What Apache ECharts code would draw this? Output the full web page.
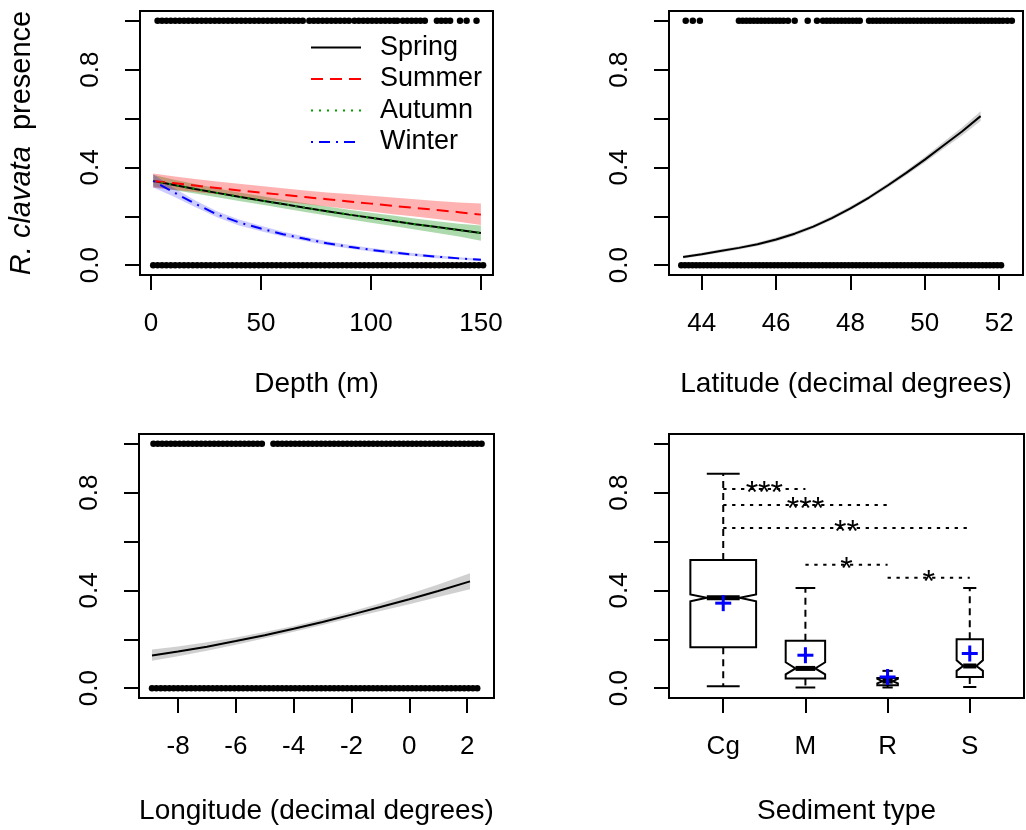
<!DOCTYPE html>
<html><head><meta charset="utf-8">
<script src="https://cdn.jsdelivr.net/npm/echarts@6/dist/echarts.min.js"></script>
<style>html,body{margin:0;padding:0;background:#fff}#c{width:1026px;height:830px}</style>
</head><body><div id="c"></div>
<script>
// ---------- Panel 1: depth ----------
const depthPts = [1,10,20,30,40,50,60,70,80,90,100,110,120,130,140,150];
const springFit = [0.345,0.329,0.312,0.296,0.280,0.265,0.250,0.235,0.221,0.207,0.194,0.181,0.168,0.156,0.144,0.132];
const summerFit = [0.345,0.336,0.326,0.316,0.306,0.297,0.288,0.279,0.270,0.261,0.252,0.243,0.234,0.226,0.217,0.207];
const summerLo  = [0.317,0.309,0.300,0.290,0.280,0.270,0.260,0.250,0.240,0.230,0.220,0.209,0.199,0.189,0.178,0.165];
const summerHi  = [0.375,0.364,0.353,0.343,0.333,0.324,0.315,0.306,0.298,0.291,0.284,0.277,0.270,0.263,0.257,0.252];
const autumnFit = [0.345,0.329,0.312,0.296,0.280,0.265,0.250,0.235,0.221,0.207,0.194,0.181,0.168,0.156,0.144,0.132];
const autumnLo  = [0.322,0.308,0.293,0.278,0.263,0.248,0.233,0.218,0.203,0.188,0.174,0.160,0.146,0.132,0.118,0.100];
const autumnHi  = [0.370,0.351,0.332,0.315,0.298,0.283,0.268,0.254,0.240,0.227,0.215,0.203,0.191,0.180,0.170,0.163];
const winterFit = [0.345,0.300,0.252,0.208,0.175,0.150,0.127,0.108,0.090,0.076,0.063,0.052,0.043,0.035,0.028,0.022];
const winterLo  = [0.318,0.282,0.238,0.196,0.163,0.139,0.117,0.099,0.082,0.068,0.056,0.045,0.037,0.029,0.023,0.016];
const winterHi  = [0.372,0.318,0.266,0.221,0.187,0.161,0.137,0.117,0.098,0.084,0.070,0.059,0.049,0.041,0.033,0.028];
const depthPresence = [3,5,7,9,11,13,15,17,19,21,23,25,27,29,31,33,35,37,39,41,43,45,47,49,51,53,55,57,59,61,63,65,67,69,72,74,76,78,80,82,84,86,88,90,92.5,94.5,96.5,98.5,100.5,102.5,104.5,106.5,108.5,110.5,112,114.5,116.5,118.5,120.5,122.5,124.5,130,132,134,136,140.5,143.5,148];
const depthAbsence = [1,3,5,7,9,11,13,15,17,19,21,23,25,27,29,31,33,35,37,39,41,43,45,47,49,51,53,55,57,59,61,63,65,67,69,71,73,75,77,79,81,83,85,87,89,91,93,95,97,99,101,103,105,107,109,111,113,115,117,119,121,123,125,127,129,131,133,135,137,139,141,143,145,147,149,151];
const depthTicks = [0,50,100,150];

// ---------- Panel 2: latitude ----------
const latPts = [43.5,44,44.5,45,45.5,46,46.5,47,47.5,48,48.5,49,49.5,50,50.5,51,51.5];
const latFit = [0.034,0.045,0.058,0.071,0.086,0.105,0.129,0.158,0.193,0.233,0.277,0.326,0.378,0.432,0.490,0.547,0.610];
const latLo  = [0.028,0.039,0.051,0.064,0.079,0.097,0.121,0.150,0.185,0.225,0.269,0.317,0.368,0.420,0.476,0.531,0.590];
const latHi  = [0.040,0.051,0.065,0.078,0.093,0.113,0.137,0.166,0.201,0.241,0.285,0.335,0.388,0.444,0.504,0.563,0.630];
const latPresence = [43.57,43.76,43.95,45.0,45.1,45.2,45.3,45.4,45.5,45.6,45.7,45.8,45.9,46.0,46.1,46.2,46.32,46.5,46.85,47.1,47.26,47.36,47.46,47.56,47.66,47.76,47.86,47.96,48.06,48.16,48.25,48.5,48.6,48.7,48.8,48.9,49.0,49.1,49.2,49.3,49.4,49.5,49.6,49.7,49.8,49.9,50.0,50.1,50.2,50.3,50.4,50.5,50.6,50.7,50.8,50.9,51.0,51.1,51.2,51.3,51.4,51.5,51.6,51.7,51.8,51.9,52.0,52.1,52.22,52.34];
const latAbsence = [43.45,43.55,43.65,43.75,43.85,43.95,44.05,44.15,44.25,44.35,44.45,44.55,44.65,44.75,44.85,44.95,45.05,45.15,45.25,45.35,45.45,45.55,45.65,45.75,45.85,45.95,46.05,46.15,46.25,46.35,46.45,46.55,46.65,46.75,46.85,46.95,47.05,47.15,47.25,47.35,47.45,47.55,47.65,47.75,47.85,47.95,48.05,48.15,48.25,48.35,48.45,48.55,48.65,48.75,48.85,48.95,49.05,49.15,49.25,49.35,49.45,49.55,49.65,49.75,49.85,49.95,50.05,50.15,50.25,50.35,50.45,50.55,50.65,50.75,50.85,50.95,51.05,51.15,51.25,51.35,51.45,51.55,51.65,51.75,51.85,51.95,52.05];
const latTicks = [44,46,48,50,52];

// ---------- Panel 3: longitude ----------
const lonPts = [-8.9,-8,-7,-6,-5,-4,-3,-2,-1,0,1,2.1];
const lonFit = [0.134,0.150,0.170,0.193,0.217,0.243,0.271,0.301,0.332,0.364,0.398,0.437];
const lonLo  = [0.112,0.131,0.153,0.178,0.204,0.231,0.259,0.288,0.316,0.344,0.373,0.405];
const lonHi  = [0.158,0.171,0.188,0.208,0.230,0.255,0.283,0.314,0.348,0.385,0.424,0.470];
const lonPresence = [-8.85,-8.7,-8.55,-8.4,-8.25,-8.1,-7.95,-7.8,-7.65,-7.5,-7.35,-7.2,-7.05,-6.9,-6.75,-6.6,-6.45,-6.3,-6.15,-6.0,-5.85,-5.7,-5.55,-5.4,-5.25,-5.1,-4.7,-4.55,-4.4,-4.25,-4.1,-3.95,-3.8,-3.65,-3.5,-3.35,-3.2,-3.05,-2.9,-2.75,-2.6,-2.45,-2.3,-2.15,-2.0,-1.85,-1.7,-1.55,-1.4,-1.25,-1.1,-0.95,-0.8,-0.65,-0.5,-0.35,-0.2,-0.05,0.1,0.25,0.4,0.55,0.7,0.85,1.0,1.15,1.3,1.45,1.6,1.75,1.9,2.05,2.2,2.35,2.5];
const lonAbsence = [-8.9,-8.75,-8.6,-8.45,-8.3,-8.15,-8.0,-7.85,-7.7,-7.55,-7.4,-7.25,-7.1,-6.95,-6.8,-6.65,-6.5,-6.35,-6.2,-6.05,-5.9,-5.75,-5.6,-5.45,-5.3,-5.15,-5.0,-4.85,-4.7,-4.55,-4.4,-4.25,-4.1,-3.95,-3.8,-3.65,-3.5,-3.35,-3.2,-3.05,-2.9,-2.75,-2.6,-2.45,-2.3,-2.15,-2.0,-1.85,-1.7,-1.55,-1.4,-1.25,-1.1,-0.95,-0.8,-0.65,-0.5,-0.35,-0.2,-0.05,0.1,0.25,0.4,0.55,0.7,0.85,1.0,1.15,1.3,1.45,1.6,1.75,1.9,2.05,2.2,2.35];
const lonTicks = [-8,-6,-4,-2,0,2];

// ---------- Panel 4: sediment boxplots ----------
const sedimentTypes = ['Cg','M','R','S'];
const whiskerLow  = [0.008,0.003,0.003,0.005];
const quart1      = [0.168,0.040,0.012,0.046];
const medians     = [0.370,0.081,0.029,0.091];
const quart3      = [0.525,0.194,0.042,0.200];
const whiskerHigh = [0.877,0.410,0.071,0.410];
const notchLow    = [0.356,0.057,0.020,0.071];
const notchHigh   = [0.384,0.106,0.038,0.114];
const groupMeans  = [0.348,0.135,0.046,0.142];
const relWidths   = [0.80,0.48,0.25,0.32];
const sigFrom  = [1,1,1,2,3];
const sigTo    = [2,3,4,3,4];
const sigLevel = [0.815,0.750,0.655,0.505,0.452];
const sigStars = ['***','***','**','*','*'];

const yTicks = [0,0.2,0.4,0.6,0.8,1.0];
const yLabels = [0,0.4,0.8];

// ---------- build ----------
const FONT = '"Liberation Sans", Arial, sans-serif';
const chart = echarts.init(document.getElementById('c'), null, {renderer:'canvas'});

function mkGrid(left, top, width, height){
  return {left, top, width, height, show:true, borderColor:'#000', borderWidth:2, backgroundColor:'transparent', containLabel:false};
}
function mkX(gi, min, max, ticks, name, gap, fmt){
  return {type:'value', gridIndex:gi, min, max, name, nameLocation:'middle', nameGap:gap,
    nameTextStyle:{fontSize:28, fontFamily:FONT, color:'#000'},
    axisLine:{show:false, onZero:false}, splitLine:{show:false},
    axisTick:{show:true, inside:false, length:15, lineStyle:{color:'#000', width:2}, customValues:ticks},
    axisLabel:{show:true, margin:36, fontSize:26, fontFamily:FONT, color:'#000', customValues:ticks, formatter:fmt || (v => String(v)), hideOverlap:false}};
}
function mkY(gi, withName){
  const a = {type:'value', gridIndex:gi, min:-0.04, max:1.04,
    axisLine:{show:false, onZero:false}, splitLine:{show:false},
    axisTick:{show:true, inside:false, length:15, lineStyle:{color:'#000', width:2}, customValues:yTicks},
    axisLabel:{show:true, margin:36, rotate:90, fontSize:26, fontFamily:FONT, color:'#000', customValues:yLabels, formatter:v => Number(v).toFixed(1), hideOverlap:false}};
  if (withName){
    a.name = '{i|R. clavata}{n|  presence}';
    a.nameLocation = 'middle';
    a.nameGap = 104;
    a.nameRotate = 90;
    a.nameTextStyle = {fontSize:29, fontFamily:FONT, color:'#000',
      rich:{i:{fontStyle:'italic', fontSize:29, fontFamily:FONT, color:'#000'}, n:{fontSize:29, fontFamily:FONT, color:'#000'}}};
  }
  return a;
}
function pairs(xs, ys){ return xs.map((x,i) => [x, ys[i]]); }
function flat(xs, v){ return xs.map(x => [x, v]); }
function band(gi, xs, lo, hi, color){
  return {type:'custom', xAxisIndex:gi, yAxisIndex:gi, silent:true, z:1,
    data:[[xs[0], lo[0]]],
    renderItem:function(params, api){
      const pts = [];
      for (let i=0;i<xs.length;i++) pts.push(api.coord([xs[i], hi[i]]));
      for (let i=xs.length-1;i>=0;i--) pts.push(api.coord([xs[i], lo[i]]));
      return {type:'polygon', shape:{points:pts}, style:{fill:color}};
    }};
}
function fitLine(gi, name, xs, ys, color, type){
  return {type:'line', name, xAxisIndex:gi, yAxisIndex:gi, data:pairs(xs, ys), symbol:'none', showSymbol:false,
    smooth:false, z:3, lineStyle:{color, width:2, type}, itemStyle:{color}};
}
function rug(gi, pts){
  return {type:'scatter', xAxisIndex:gi, yAxisIndex:gi, data:pts, symbol:'circle', symbolSize:6.5,
    itemStyle:{color:'#000', opacity:1}, z:4, silent:true};
}

const boxData = sedimentTypes.map((c,i) => [i+1, whiskerLow[i], quart1[i], medians[i], quart3[i], whiskerHigh[i], notchLow[i], notchHigh[i], groupMeans[i], relWidths[i]]);
const sigData = sigFrom.map((f,i) => [f, sigTo[i], sigLevel[i], i]);

const option = {
  animation:false,
  backgroundColor:'#fff',
  grid:[mkGrid(140,11,353,264), mkGrid(669,11,354,264), mkGrid(139,434,355,264), mkGrid(669,434,355,264)],
  xAxis:[
    mkX(0, -5, 155.5, depthTicks, 'Depth (m)', 95),
    mkX(1, 43.12, 52.64, latTicks, 'Latitude (decimal degrees)', 95),
    mkX(2, -9.35, 2.93, lonTicks, 'Longitude (decimal degrees)', 99),
    mkX(3, 0.34, 4.66, [1,2,3,4], 'Sediment type', 99, v => sedimentTypes[Math.round(v)-1])
  ],
  yAxis:[mkY(0,true), mkY(1,false), mkY(2,false), mkY(3,false)],
  legend:{
    data:['Spring','Summer','Autumn','Winter'],
    orient:'vertical', left:305, top:29, itemWidth:50, itemHeight:14, itemGap:4.5,
    selectedMode:false, itemStyle:{opacity:0},
    textStyle:{fontSize:27, fontFamily:FONT, color:'#000', padding:[0,0,0,14]}
  },
  series:[
    band(0, depthPts, autumnLo, autumnHi, 'rgba(0,140,0,0.32)'),
    band(0, depthPts, summerLo, summerHi, 'rgba(255,0,0,0.30)'),
    band(0, depthPts, winterLo, winterHi, 'rgba(0,0,255,0.20)'),
    fitLine(0, 'Spring', depthPts, springFit, '#000', 'solid'),
    fitLine(0, 'Summer', depthPts, summerFit, '#ff0000', [12,7]),
    fitLine(0, 'Autumn', depthPts, autumnFit, '#00a000', [2,6]),
    fitLine(0, 'Winter', depthPts, winterFit, '#0000ff', [2,6,11,6]),
    rug(0, flat(depthPresence, 1)),
    rug(0, flat(depthAbsence, 0)),

    band(1, latPts, latLo, latHi, 'rgba(150,150,150,0.45)'),
    fitLine(1, 'lat', latPts, latFit, '#000', 'solid'),
    rug(1, flat(latPresence, 1)),
    rug(1, flat(latAbsence, 0)),

    band(2, lonPts, lonLo, lonHi, 'rgba(150,150,150,0.45)'),
    fitLine(2, 'lon', lonPts, lonFit, '#000', 'solid'),
    rug(2, flat(lonPresence, 1)),
    rug(2, flat(lonAbsence, 0)),

    {type:'custom', xAxisIndex:3, yAxisIndex:3, silent:true, z:2, data:sigData,
      renderItem:function(params, api){
        const f = api.value(0), t = api.value(1), y = api.value(2), k = api.value(3);
        const p1 = api.coord([f, y]), p2 = api.coord([t, y]);
        return {type:'group', children:[
          {type:'line', shape:{x1:p1[0], y1:p1[1], x2:p2[0], y2:p2[1]}, style:{stroke:'#000', lineWidth:2, lineDash:[3.3,5.6]}},
          {type:'text', x:(p1[0]+p2[0])/2, y:p1[1]+5, style:{text:sigStars[k], fill:'#000', fontSize:32, fontFamily:FONT, align:'center', verticalAlign:'middle'}}
        ]};
      }},
    {type:'custom', xAxisIndex:3, yAxisIndex:3, silent:true, z:3, data:boxData,
      renderItem:function(params, api){
        const x = api.value(0), wlo = api.value(1), q1 = api.value(2), med = api.value(3), q3 = api.value(4),
              whi = api.value(5), nlo = api.value(6), nhi = api.value(7), mean = api.value(8), w = api.value(9);
        const c = (xx, yy) => api.coord([xx, yy]);
        const hw = w/2, qw = w/4;
        const poly = [c(x-hw,q1), c(x-hw,nlo), c(x-qw,med), c(x-hw,nhi), c(x-hw,q3), c(x+hw,q3), c(x+hw,nhi), c(x+qw,med), c(x+hw,nlo), c(x+hw,q1)];
        const ln = (a, b, st) => ({type:'line', shape:{x1:a[0], y1:a[1], x2:b[0], y2:b[1]}, style:st});
        const solid = {stroke:'#000', lineWidth:2};
        const dashed = {stroke:'#000', lineWidth:2, lineDash:[7,5]};
        const m = c(x, mean);
        return {type:'group', children:[
          ln(c(x,q3), c(x,whi), dashed),
          ln(c(x,q1), c(x,wlo), dashed),
          ln(c(x-qw,whi), c(x+qw,whi), solid),
          ln(c(x-qw,wlo), c(x+qw,wlo), solid),
          {type:'polygon', shape:{points:poly}, style:{fill:'none', stroke:'#000', lineWidth:2}},
          ln(c(x-qw,med), c(x+qw,med), {stroke:'#000', lineWidth:5}),
          ln([m[0]-8, m[1]], [m[0]+8, m[1]], {stroke:'#0000ff', lineWidth:3}),
          ln([m[0], m[1]-8], [m[0], m[1]+8], {stroke:'#0000ff', lineWidth:3})
        ]};
      }}
  ]
};
chart.setOption(option);
</script>
</body></html>
